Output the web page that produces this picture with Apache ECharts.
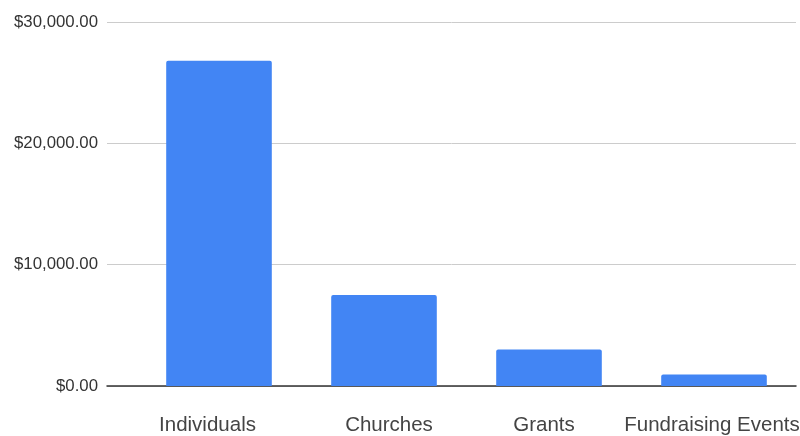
<!DOCTYPE html>
<html><head><meta charset="utf-8">
<script src="https://cdn.jsdelivr.net/npm/echarts@6/dist/echarts.min.js"></script>
<style>html,body{margin:0;padding:0;background:#fff}#c{width:800px;height:436px}</style>
</head><body><div id="c"></div>
<script>
const categories = ['Individuals', 'Churches', 'Grants', 'Fundraising Events'];
const amounts = [26800, 7500, 3000, 950];
const yTicks = [0, 10000, 20000, 30000];
// horizontal nudges of the category labels (px), as placed in the reference
const labelShift = [-11.5, 5, -5, -2];

const fmt = v => '$' + v.toLocaleString('en-US', {minimumFractionDigits: 2, maximumFractionDigits: 2});
const catItems = categories.map((c, i) => {
  const d = labelShift[i];
  return {value: c, textStyle: {padding: d >= 0 ? [0, 0, 0, 2 * d] : [0, -2 * d, 0, 0]}};
});
const chart = echarts.init(document.getElementById('c'));
chart.setOption({
  animation: false,
  grid: [
    {left: 107, right: 4, top: 22, bottom: 50, outerBoundsMode: 'none', containLabel: false},
    {left: 136.5, right: 3.5, top: 22, bottom: 50, outerBoundsMode: 'none', containLabel: false}
  ],
  xAxis: [
    {gridIndex: 0, type: 'category', data: [''], axisLine: {lineStyle: {color: '#333', width: 1.5}}, axisTick: {show: false}, axisLabel: {show: false}},
    {gridIndex: 1, type: 'category', data: catItems, axisLine: {show: false}, axisTick: {show: false},
     axisLabel: {interval: 0, color: '#444', fontSize: 20.5, fontFamily: 'Liberation Sans, Arial', margin: 29}}
  ],
  yAxis: [
    {gridIndex: 0, type: 'value', min: yTicks[0], max: yTicks[yTicks.length - 1], interval: 10000,
     axisLabel: {formatter: fmt, color: '#333', fontSize: 16.8, fontFamily: 'Liberation Sans, Arial', margin: 9},
     splitLine: {lineStyle: {color: '#cccccc'}}, axisLine: {show: false}, axisTick: {show: false}},
    {gridIndex: 1, type: 'value', min: yTicks[0], max: yTicks[yTicks.length - 1], interval: 10000, show: false}
  ],
  series: [{
    type: 'bar', xAxisIndex: 1, yAxisIndex: 1, data: amounts, barWidth: '64%',
    itemStyle: {color: '#4285f4', borderRadius: [2, 2, 0, 0]}
  }]
});
</script></body></html>
